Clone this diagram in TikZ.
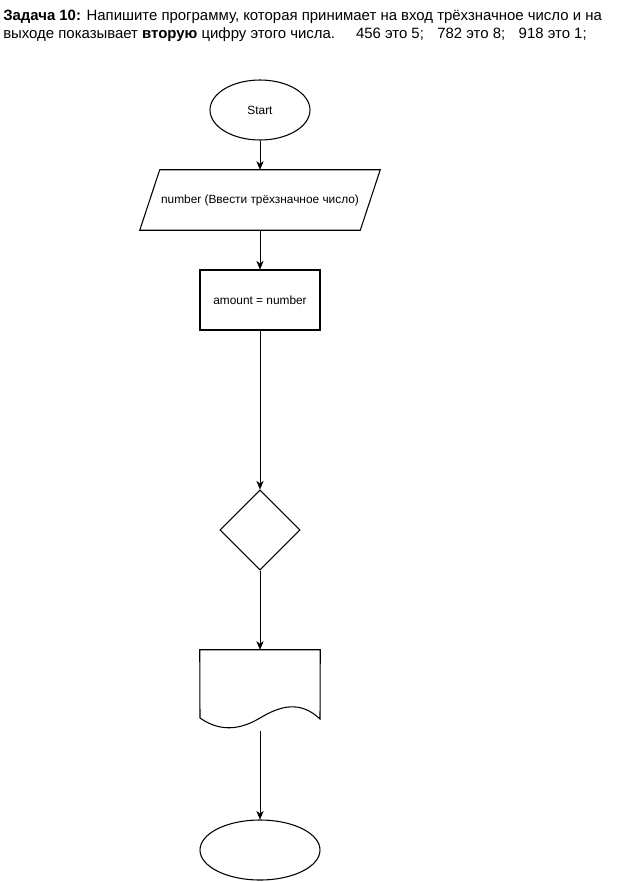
\documentclass[tikz,border=0pt]{standalone}
\usepackage{fontspec}
\setmainfont{Liberation Sans}
\usetikzlibrary{shapes.geometric,arrows.meta}

\begin{document}
\begin{tikzpicture}[x=0.75pt,y=-0.75pt,
  every node/.style={font=\fontsize{8.9pt}{10pt}\selectfont},
  term/.style={ellipse,draw,thick,minimum width=75pt,minimum height=45pt,inner sep=0pt},
  io/.style={rectangle,minimum width=165pt,minimum height=45pt,inner sep=0pt},
  proc/.style={rectangle,draw,thick,minimum width=90pt,minimum height=45pt},
  cond/.style={diamond,draw,thick,minimum width=60pt,minimum height=60pt,inner sep=0pt},
  doc/.style={rectangle,minimum width=90pt,minimum height=60pt,inner sep=0pt},
  line/.style={draw,-{Stealth[length=6.5pt,width=5.5pt]}}]
    \useasboundingbox (0,0) rectangle (631,882);
    % Task text
    \node[anchor=north west,align=left,inner sep=0pt,
      font=\fontsize{11.2pt}{13.5pt}\selectfont] (task) at (3,10)
      {\textbf{Задача 10:} Напишите программу, которая принимает на вход трёхзначное число и на\\
       выходе показывает \textbf{вторую} цифру этого числа.\hspace{1.4em}456 это 5;\hspace{0.9em}782 это 8;\hspace{0.9em}918 это 1;};
    % Blocks
    \node[term] (start) at (260,110) {Start};
    \node[io] (input) at (260,200) {number (Ввести трёхзначное число)};
    \draw[thick] ([xshift=7.5pt]input.north west) -- ([xshift=7.5pt]input.north east)
      -- ([xshift=-7.5pt]input.south east) -- ([xshift=-7.5pt]input.south west) -- cycle;
    \node[proc] (assign) at (260,300) {amount = number};
    \node[cond] (check) at (260,530) {};
    \node[doc] (output) at (260,690) {};
    \draw[thick] (output.north west) -- (output.north east) -- (320,719)
      .. controls (300,700) and (280,706) .. (260,718)
      .. controls (240,730) and (220,732) .. (200,718) -- cycle;
    \coordinate (outbot) at (260,731);
    \node[term,minimum width=90pt] (stop) at (260,850) {};
    % Connectors
    \path[line] (start) -- (input);
    \path[line] (input) -- (assign);
    \path[line] (assign) -- (check);
    \path[line] (check) -- (output);
    \path[line] (outbot) -- (stop);
\end{tikzpicture}
\end{document}
